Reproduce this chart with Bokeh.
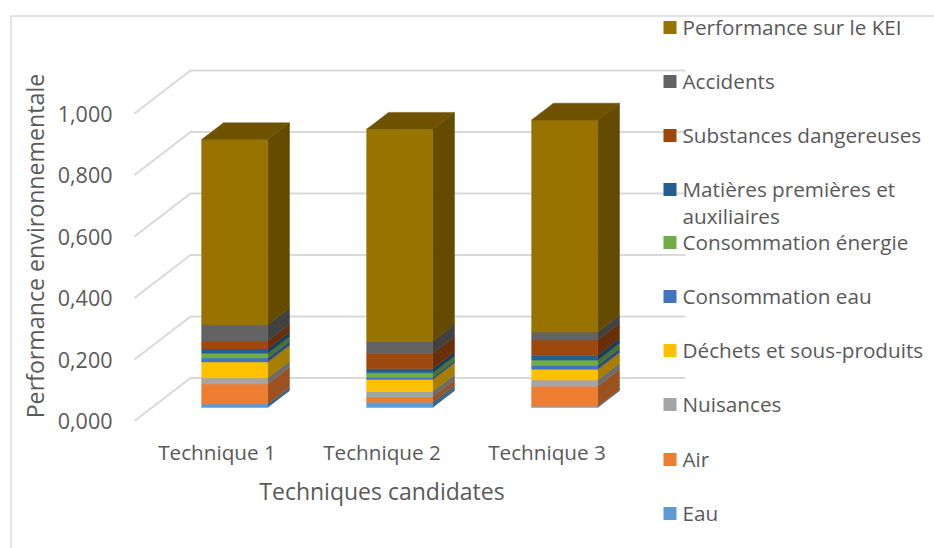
from bokeh.plotting import figure
from bokeh.models import Range1d, LinearAxis, FixedTicker, CustomJSTickFormatter
from bokeh.core.properties import value
from bokeh.embed import file_html
from bokeh.resources import INLINE

categories = ["Technique 1", "Technique 2", "Technique 3"]
eau = [0.011, 0.017, 0.004]
air = [0.065, 0.017, 0.065]
nuisances = [0.020, 0.018, 0.020]
dechets = [0.052, 0.039, 0.035]
conso_eau = [0.013, 0.007, 0.013]
conso_energie = [0.015, 0.015, 0.017]
matieres = [0.014, 0.013, 0.015]
substances = [0.026, 0.050, 0.050]
accidents = [0.052, 0.039, 0.026]
kei = [0.603, 0.690, 0.690]

series = [eau, air, nuisances, dechets, conso_eau, conso_energie, matieres, substances, accidents, kei]
names = ["Eau", "Air", "Nuisances", "Déchets et sous-produits", "Consommation eau",
         "Consommation énergie", "Matières premières et\nauxiliaires", "Substances dangereuses",
         "Accidents", "Performance sur le KEI"]
colors = ["#5B9BD5", "#ED7D31", "#A5A5A5", "#FFC000", "#4472C4",
          "#70AD47", "#255E91", "#9E480E", "#636363", "#997300"]
y_ticks = [0.0, 0.2, 0.4, 0.6, 0.8, 1.0]

W, H = 934, 548
ORIG = 0
PXX, PXY = 165.0, 307.5         # pixels per category, per unit of value
X0, Y0 = 216.5, 420.5           # page pixel of category 1 and of value 0 on the front plane
xr = Range1d(1 + (ORIG - X0) / PXX, 1 + (ORIG + W - X0) / PXX)
yr = Range1d((Y0 - (ORIG + H)) / PXY, (Y0 - ORIG) / PXY)
fx = lambda px: 1 + (px - X0) / PXX
fy = lambda py: (Y0 - py) / PXY

p = figure(width=W, height=H, x_range=xr, y_range=yr, output_backend="svg",
           toolbar_location=None, min_border=0, outline_line_color=None,
           x_axis_type=None, y_axis_type=None)
p.xgrid.visible = False
p.ygrid.visible = False

GRID = "#d9d9d9"
TXT = "#595959"
FONT = "Open Sans"
ddx, ddy = 56 / PXX, 43 / PXY   # full depth of the 3D box
d_front, d_back = 0.315, 0.705   # depth span of the bars
half = 0.2

# chart border
p.multi_line([[fx(10.5), fx(10.5), fx(934)]], [[fy(548), fy(15.5), fy(15.5)]],
             line_color=GRID, line_width=1.5)

# floor and back wall lines
for v in y_ticks:
    p.line([0.5, 0.5 + ddx, 3.5 + ddx], [v, v + ddy, v + ddy], line_color=GRID, line_width=2)


def darken(c, f):
    r, g, b = (int(c[i:i + 2], 16) for i in (1, 3, 5))
    return "#%02x%02x%02x" % (int(r * f), int(g * f), int(b * f))


for i in range(len(categories)):
    xc = i + 1
    l = xc - half + d_front * ddx
    r = xc + half + d_front * ddx
    off = d_front * ddy
    bdx = (d_back - d_front) * ddx
    bdy = (d_back - d_front) * ddy
    base = 0.0
    for s, col in zip(series, colors):
        top = base + s[i]
        side = darken(col, 0.66)
        p.patch([r, r + bdx, r + bdx, r], [base + off, base + off + bdy, top + off + bdy, top + off],
                fill_color=side, line_color=side, line_width=0.5)
        p.quad(left=l, right=r, bottom=base + off, top=top + off,
               fill_color=col, line_color=col, line_width=0.5)
        base = top
    tc = darken(colors[-1], 0.72)
    p.patch([l, r, r + bdx, l + bdx], [base + off, base + off, base + off + bdy, base + off + bdy],
            fill_color=tc, line_color=tc, line_width=0.5)

# legend
leg_y = [513, 459, 404, 350, 296, 242, 189, 135, 81, 27]
for name, col, ly in zip(names, colors, leg_y):
    p.scatter([fx(669.5)], [fy(ly)], marker="square", size=13, fill_color=col, line_color=None)
    lines = name.split("\n")
    for k, t in enumerate(lines):
        p.text([fx(682)], [fy(ly - 0.5 + 27 * k)], text=[t], text_font=value(FONT), text_font_size="20.7px",
               text_color=TXT, text_baseline="middle", text_align="left")

# axes
yax = LinearAxis(fixed_location=fx(120), ticker=FixedTicker(ticks=y_ticks), bounds=(0, 1.14),
                 formatter=CustomJSTickFormatter(code="return tick.toFixed(3).replace('.', ',');"),
                 axis_label="Performance environnementale", axis_label_text_font=FONT,
                 axis_label_text_font_size="23.2px", axis_label_text_color=TXT,
                 axis_label_text_font_style="normal", axis_label_standoff=4,
                 major_label_text_font=FONT, major_label_text_font_size="21.5px",
                 major_label_text_color=TXT, major_label_standoff=2,
                 axis_line_color=None, major_tick_line_color=None, minor_tick_line_color=None)
p.add_layout(yax, "left")

xax = LinearAxis(fixed_location=fy(429), ticker=FixedTicker(ticks=[1, 2, 3]), bounds=(0.5, 3.5),
                 major_label_overrides={i + 1: c for i, c in enumerate(categories)},
                 axis_label="Techniques candidates", axis_label_text_font=FONT,
                 axis_label_text_font_size="23px", axis_label_text_color=TXT,
                 axis_label_text_font_style="normal", axis_label_standoff=6,
                 major_label_text_font=FONT, major_label_text_font_size="20.7px",
                 major_label_text_color=TXT, major_label_standoff=2,
                 axis_line_color=None, major_tick_line_color=None, minor_tick_line_color=None)
p.add_layout(xax, "below")

open("out.html", "w").write(file_html(p, INLINE))
